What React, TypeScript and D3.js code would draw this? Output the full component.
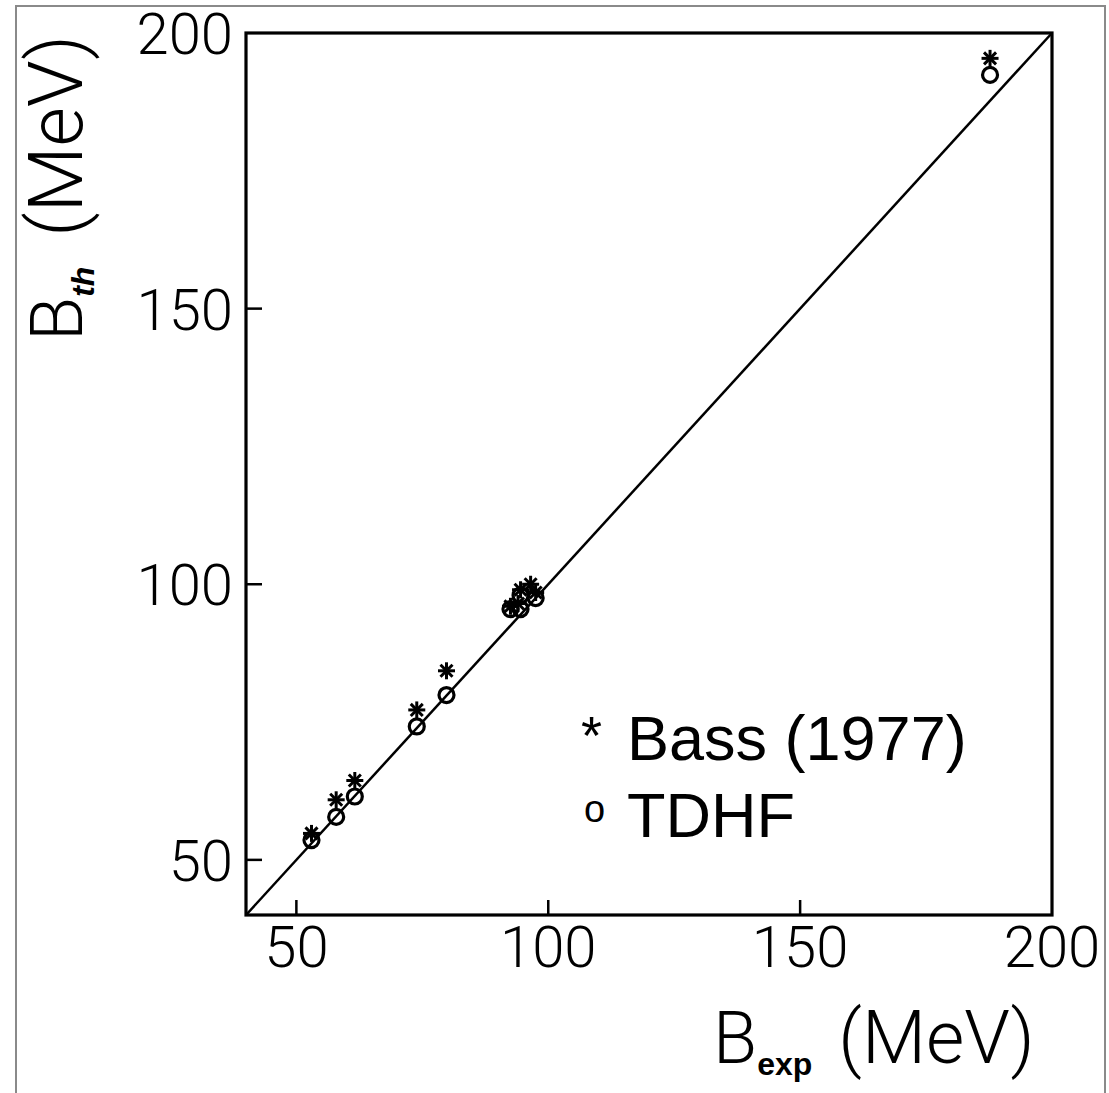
import React from "react";
import * as d3 from "d3";

// Data (MeV)
const bassExp = [53.0, 57.9, 61.6, 73.9, 79.8, 92.5, 94.0, 94.5, 96.5, 97.5, 187.7];
const bassTh = [54.8, 60.9, 64.4, 77.2, 84.3, 96.0, 96.5, 99.0, 100.0, 98.5, 195.4];
const tdhfExp = [53.0, 57.9, 61.6, 73.9, 79.8, 92.5, 94.5, 94.5, 97.5, 187.7];
const tdhfTh = [53.6, 57.8, 61.5, 74.2, 79.9, 95.5, 95.5, 98.0, 97.5, 192.4];
const xTicks = [50, 100, 150, 200];
const yTicks = [50, 100, 150, 200];
const domain = [40, 200];

const W = 1109;
const H = 1093;
const left = 246, right = 1052, top = 33, bottom = 915;

export default function App() {
  const x = d3.scaleLinear().domain(domain).range([left, right]);
  const y = d3.scaleLinear().domain(domain).range([bottom, top]);
  const lineGen = d3.line<number>().x((d) => x(d)).y((d) => y(d));
  const tickFont = "Roboto, 'Liberation Sans', sans-serif";
  const bass = bassExp.map((v, i) => [v, bassTh[i]]);
  const tdhf = tdhfExp.map((v, i) => [v, tdhfTh[i]]);
  const starR = 8.5;
  return (
    <svg
      width={W}
      height={H}
      style={{ position: "absolute", left: 0, top: 0, background: "#fff" }}
    >
      <rect x={0} y={0} width={W} height={H} fill="#fff" />
      {/* outer frame */}
      <rect x={16} y={6} width={1089} height={H + 20} fill="none" stroke="#8a8a8a" strokeWidth={2} />
      {/* plot frame */}
      <rect x={left} y={top} width={right - left} height={bottom - top} fill="none" stroke="#000" strokeWidth={3.2} />
      {/* ticks */}
      {xTicks.filter((t) => t < 200).map((t) => (
        <line key={"xt" + t} x1={x(t)} x2={x(t)} y1={bottom} y2={bottom - 15} stroke="#000" strokeWidth={2.5} />
      ))}
      {yTicks.filter((t) => t < 200).map((t) => (
        <line key={"yt" + t} x1={left} x2={left + 16} y1={y(t)} y2={y(t)} stroke="#000" strokeWidth={2.5} />
      ))}
      {/* tick labels */}
      {xTicks.map((t) => (
        <text key={"xl" + t} x={x(t)} y={967} textAnchor="middle" fontFamily={tickFont} fontWeight={300} fontSize={58} fill="#000">
          {t}
        </text>
      ))}
      {yTicks.map((t) => (
        <text key={"yl" + t} x={233} y={y(t) + 21} textAnchor="end" fontFamily={tickFont} fontWeight={300} fontSize={58} fill="#000">
          {t}
        </text>
      ))}
      {/* diagonal */}
      <path d={lineGen(domain) || ""} fill="none" stroke="#000" strokeWidth={2.5} />
      {/* TDHF circles */}
      {tdhf.map((d, i) => (
        <circle key={"c" + i} cx={x(d[0])} cy={y(d[1])} r={7.5} fill="none" stroke="#000" strokeWidth={3.2} />
      ))}
      {/* Bass stars */}
      {bass.map((d, i) => {
        const cx = x(d[0]);
        const cy = y(d[1]);
        return (
          <g key={"s" + i} stroke="#000" strokeWidth={3}>
            {[0, 45, 90, 135].map((a) => {
              const r = (a * Math.PI) / 180;
              return (
                <line key={a} x1={cx - starR * Math.cos(r)} y1={cy - starR * Math.sin(r)} x2={cx + starR * Math.cos(r)} y2={cy + starR * Math.sin(r)} />
              );
            })}
          </g>
        );
      })}
      {/* legend */}
      <text x={581} y={754} fontFamily="'Liberation Sans', Arial, sans-serif" fontSize={54} fill="#000">*</text>
      <text x={627} y={760} fontFamily="'Liberation Sans', Arial, sans-serif" fontSize={63} fill="#000">Bass (1977)</text>
      <text x={584} y={822} fontFamily="'Liberation Sans', Arial, sans-serif" fontSize={38} fill="#000">o</text>
      <text x={627} y={837} fontFamily="'Liberation Sans', Arial, sans-serif" fontSize={63} fill="#000">TDHF</text>
      {/* x axis title */}
      <text x={713} y={1063} fontFamily={tickFont} fontWeight={300} fontSize={72} fill="#000">
        B
        <tspan fontFamily="'Liberation Sans', Arial, sans-serif" fontWeight={700} fontSize={32} dy={12}>exp</tspan>
        <tspan dy={-12} dx={26} fontSize={74}>(MeV)</tspan>
      </text>
      {/* y axis title */}
      <text transform="translate(82,341) rotate(-90)" fontFamily={tickFont} fontWeight={300} fontSize={72} fill="#000">
        B
        <tspan fontFamily="'Liberation Sans', Arial, sans-serif" fontWeight={700} fontStyle="italic" fontSize={32} dy={12}>th</tspan>
        <tspan dy={-12} dx={30} fontSize={76}>(MeV)</tspan>
      </text>
    </svg>
  );
}
